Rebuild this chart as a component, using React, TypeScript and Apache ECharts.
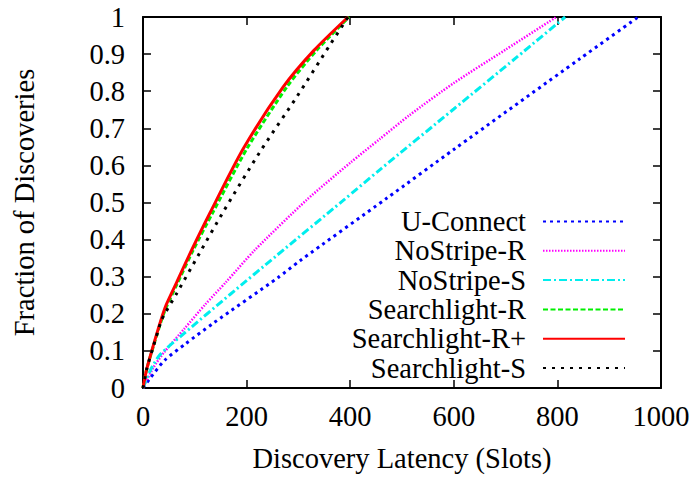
import React, { useEffect, useRef } from "react";
import * as echarts from "echarts";

// Cumulative fraction of discoveries vs. latency (slots), one [latency, fraction] list per protocol
const uConnect: [number, number][] = [
  [0, 0], [13, 0.025], [42, 0.075], [81, 0.118], [135, 0.174], [261, 0.298],
  [303, 0.343], [471, 0.512], [600, 0.643], [844, 0.888], [956, 1],
];
const noStripeR: [number, number][] = [
  [0, 0], [20, 0.055], [40, 0.095], [80, 0.16], [120, 0.225], [160, 0.285],
  [216, 0.372], [316, 0.507], [400, 0.607], [457, 0.671], [515, 0.736],
  [600, 0.822], [700, 0.912], [798, 1],
];
const noStripeS: [number, number][] = [
  [0, 0], [15, 0.05], [33, 0.09], [80, 0.148], [168, 0.252], [258, 0.357],
  [386, 0.505], [457, 0.588], [600, 0.752], [721, 0.891], [815, 1],
];
const searchlightR: [number, number][] = [
  [0, 0], [7, 0.05], [20, 0.112], [35, 0.18], [45, 0.218], [65, 0.278],
  [97, 0.372], [134, 0.471], [201, 0.646], [278, 0.812], [335, 0.91], [398, 1],
];
const searchlightRPlus: [number, number][] = [
  [0, 0], [7, 0.05], [20, 0.115], [35, 0.185], [45, 0.225], [65, 0.285],
  [94, 0.372], [129, 0.471], [194, 0.646], [271, 0.812], [330, 0.91], [396, 1],
];
const searchlightS: [number, number][] = [
  [0, 0], [7, 0.05], [20, 0.112], [35, 0.18], [42, 0.2], [65, 0.255],
  [109, 0.363], [155, 0.475], [226, 0.637], [297, 0.785], [361, 0.925], [396, 1],
];

const seriesNames = [
  "U-Connect", "NoStripe-R", "NoStripe-S", "Searchlight-R", "Searchlight-R+", "Searchlight-S",
];
const seriesData = [uConnect, noStripeR, noStripeS, searchlightR, searchlightRPlus, searchlightS];
const seriesColors = ["#0000ff", "#ff00ff", "#00eeee", "#00f000", "#ff0000", "#000000"];
const seriesWidths = [3, 2.5, 3, 3, 3, 3];
const seriesDashes: (number[] | "solid")[] = [
  [3, 4], [1.5, 1.5], [8, 3, 2, 3], [5, 2.5], "solid", [3, 6],
];

const xMin = 0, xMax = 1000, xStep = 200;
const yMin = 0, yMax = 1, yStep = 0.1;

const FONT = "'Liberation Serif', 'Times New Roman', serif";
const FONT_SIZE = 28.5;

export default function App() {
  const ref = useRef<HTMLDivElement>(null);

  useEffect(() => {
    if (!ref.current) return;
    const chart = echarts.init(ref.current, undefined, { renderer: "svg" });

    const tickCommon = { show: true, inside: true, length: 8, lineStyle: { color: "#000", width: 1.5 } };
    const lineCommon = { show: true, onZero: false, lineStyle: { color: "#000", width: 2 } };
    const plainNumber = (v: number) => String(v);

    chart.setOption({
      animation: false,
      backgroundColor: "#fff",
      grid: { left: 143, right: 34, top: 17, bottom: 91, containLabel: false },
      legend: {
        orient: "vertical",
        right: 64,
        top: 202,
        align: "right",
        itemWidth: 82,
        itemHeight: 14,
        itemGap: 0.3,
        selectedMode: false,
        data: seriesNames,
        itemStyle: { color: "transparent", borderColor: "transparent", borderWidth: 0, opacity: 0 },
        textStyle: {
          fontFamily: FONT,
          fontSize: FONT_SIZE,
          lineHeight: 28,
          color: "#000",
          padding: [0, 12, 0, 0],
        },
      },
      xAxis: [
        {
          type: "value",
          min: xMin,
          max: xMax,
          interval: xStep,
          position: "bottom",
          name: "Discovery Latency (Slots)",
          nameLocation: "middle",
          nameGap: 56,
          nameTextStyle: { fontFamily: FONT, fontSize: FONT_SIZE, color: "#000" },
          axisLine: lineCommon,
          axisTick: tickCommon,
          splitLine: { show: false },
          axisLabel: { fontFamily: FONT, fontSize: FONT_SIZE, color: "#000", margin: 14, formatter: plainNumber },
        },
        {
          type: "value",
          min: xMin,
          max: xMax,
          interval: xStep,
          position: "top",
          axisLine: lineCommon,
          axisTick: tickCommon,
          splitLine: { show: false },
          axisLabel: { show: false },
        },
      ],
      yAxis: [
        {
          type: "value",
          min: yMin,
          max: yMax,
          interval: yStep,
          position: "left",
          name: "Fraction of Discoveries",
          nameLocation: "middle",
          nameGap: 104,
          nameTextStyle: { fontFamily: FONT, fontSize: FONT_SIZE, color: "#000" },
          axisLine: lineCommon,
          axisTick: tickCommon,
          splitLine: { show: false },
          axisLabel: { fontFamily: FONT, fontSize: FONT_SIZE, color: "#000", margin: 18 },
        },
        {
          type: "value",
          min: yMin,
          max: yMax,
          interval: yStep,
          position: "right",
          axisLine: lineCommon,
          axisTick: tickCommon,
          splitLine: { show: false },
          axisLabel: { show: false },
        },
      ],
      series: seriesNames.map((name, i) => ({
        name,
        type: "line",
        xAxisIndex: 0,
        yAxisIndex: 0,
        data: seriesData[i],
        smooth: 0.25,
        symbol: "none",
        showSymbol: false,
        clip: true,
        itemStyle: { color: seriesColors[i] },
        lineStyle: {
          color: seriesColors[i],
          width: seriesWidths[i],
          type: seriesDashes[i],
          cap: "butt",
        },
      })),
    });

    return () => chart.dispose();
  }, []);

  return (
    <div
      ref={ref}
      style={{ position: "fixed", left: 0, top: 0, width: 695, height: 479 }}
    />
  );
}
